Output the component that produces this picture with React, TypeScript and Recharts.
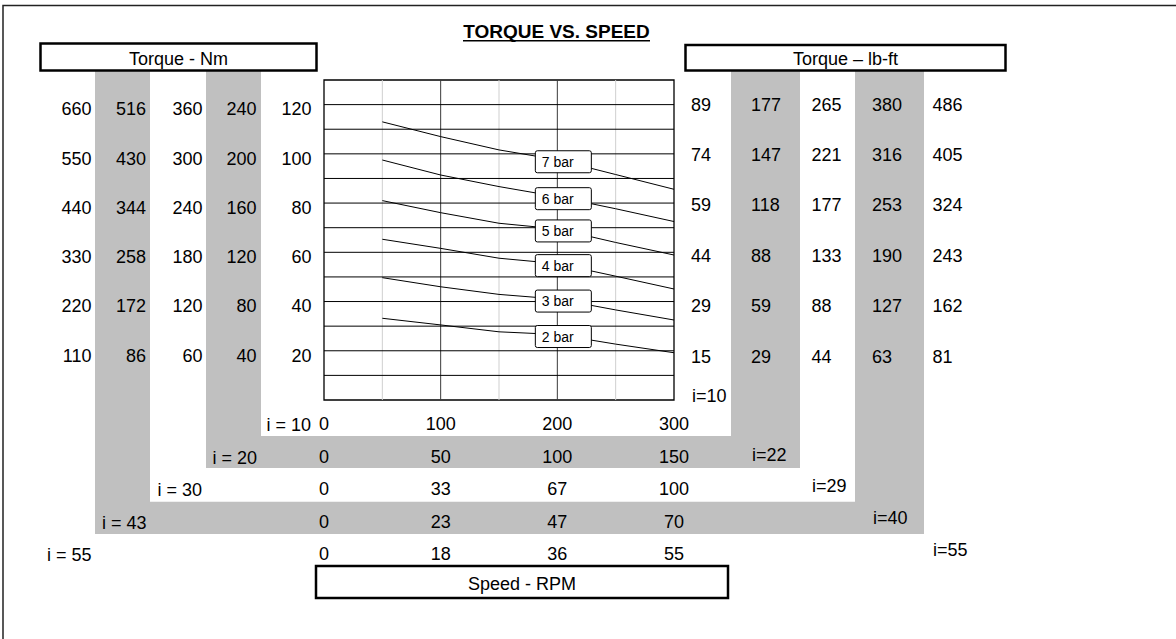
import React from 'react';
import { LineChart, Line, XAxis, YAxis, ReferenceLine, ReferenceArea, LabelList } from 'recharts';

// ---- data ----
const speedRpm = [50, 100, 150, 200, 250, 300];
const bar2 = [33.2, 30.5, 27.7, 26.6, 22.7, 19.2];
const bar3 = [49.7, 46.0, 42.9, 41.0, 36.6, 32.5];
const bar4 = [65.3, 61.6, 57.6, 55.4, 50.3, 45.1];
const bar5 = [81.0, 76.1, 71.8, 69.5, 64.0, 58.9];
const bar6 = [97.5, 91.4, 86.7, 82.6, 77.7, 72.5];
const bar7 = [113.0, 107.0, 101.6, 97.6, 91.6, 85.6];
const seriesNames = ['2 bar', '3 bar', '4 bar', '5 bar', '6 bar', '7 bar'];

const torqueTicks = [20, 40, 60, 80, 100, 120];
const nmI10 = ['20', '40', '60', '80', '100', '120'];
const nmI20 = ['40', '80', '120', '160', '200', '240'];
const nmI30 = ['60', '120', '180', '240', '300', '360'];
const nmI43 = ['86', '172', '258', '344', '430', '516'];
const nmI55 = ['110', '220', '330', '440', '550', '660'];
const lbI10 = ['15', '29', '44', '59', '74', '89'];
const lbI22 = ['29', '59', '88', '118', '147', '177'];
const lbI29 = ['44', '88', '133', '177', '221', '265'];
const lbI40 = ['63', '127', '190', '253', '316', '380'];
const lbI55 = ['81', '162', '243', '324', '405', '486'];

const speedTicks = [0, 100, 200, 300];
const rpmI10 = ['0', '100', '200', '300'];
const rpmI20 = ['0', '50', '100', '150'];
const rpmI30 = ['0', '33', '67', '100'];
const rpmI43 = ['0', '23', '47', '70'];
const rpmI55 = ['0', '18', '36', '55'];

const leftRatioLabels = ['i = 10', 'i = 20', 'i = 30', 'i = 43', 'i = 55'];
const rightRatioLabels = ['i=10', 'i=22', 'i=29', 'i=40', 'i=55'];

const gridY = [10, 20, 30, 40, 50, 60, 70, 80, 90, 100, 110, 120];
const gridXMinor = [50, 150, 250];
const gridXMajor = [100, 200];

const chartData = speedRpm.map((s, i) => ({
  speed: s,
  bar2: bar2[i],
  bar3: bar3[i],
  bar4: bar4[i],
  bar5: bar5[i],
  bar6: bar6[i],
  bar7: bar7[i],
}));

const FONT = "'Liberation Sans', Arial, Helvetica, sans-serif";
const FS = 18;

const makeYTick = (labels: string[], anchor: 'start' | 'end', dy: number) => (props: any) => {
  const i = torqueTicks.indexOf(props.payload.value);
  return (
    <text x={props.x} y={props.y + dy} textAnchor={anchor} fontSize={FS} fontFamily={FONT} fill="#000">
      {labels[i]}
    </text>
  );
};

const makeXTick = (labels: string[]) => (props: any) => {
  const i = speedTicks.indexOf(props.payload.value);
  return (
    <text x={props.x} y={props.y + 30} textAnchor="middle" fontSize={FS} fontFamily={FONT} fill="#000">
      {labels[i]}
    </text>
  );
};

const makeBarLabel = (name: string) => (props: any) => {
  if (props.index !== 3) return null;
  const vb = props.viewBox || {};
  const px = Number(props.x ?? vb.x);
  const py = Number(props.y ?? vb.y) + 2;
  return (
    <g>
      <rect x={px - 22} y={py - 11} width={56} height={22} rx={2} fill="#fff" stroke="#000" strokeWidth={1} />
      <text x={px - 15.5} y={py + 5} fontSize={14} fontFamily={FONT} fill="#000">
        {name}
      </text>
    </g>
  );
};

const leftAxes = [
  { id: 'L1', labels: nmI10, width: 56, margin: 12.5 },
  { id: 'L2', labels: nmI20, width: 56, margin: 11.5 },
  { id: 'L3', labels: nmI30, width: 55, margin: 9.5 },
  { id: 'L4', labels: nmI43, width: 56, margin: 11 },
  { id: 'L5', labels: nmI55, width: 61, margin: 9.5 },
];
const rightAxes = [
  { id: 'R1', labels: lbI10, width: 62, margin: 17 },
  { id: 'R2', labels: lbI22, width: 61, margin: 15 },
  { id: 'R3', labels: lbI29, width: 60, margin: 14.5 },
  { id: 'R4', labels: lbI40, width: 60, margin: 15 },
  { id: 'R5', labels: lbI55, width: 60, margin: 15.5 },
];
const bottomAxes = [
  { id: 'x10', labels: rpmI10 },
  { id: 'x20', labels: rpmI20 },
  { id: 'x30', labels: rpmI30 },
  { id: 'x43', labels: rpmI43 },
  { id: 'x55', labels: rpmI55 },
];

const rowBaselines = [430, 462.5, 495, 527.5, 560];
const leftRatioX = [311, 257, 202, 146.5, 91.5];
const rightRatioX = [692, 752, 812, 873, 933];
const rightRatioY = [401.7, 460.7, 492.3, 524, 556];

const Background = () => (
  <svg width={1176} height={639} style={{ position: 'absolute', left: 0, top: 0 }}>
    <rect x={3} y={5.5} width={1400} height={900} fill="none" stroke="#222" strokeWidth={1.5} />
    <path d="M95,71 H150 V501.7 H855 V71 H924 V534 H95 Z" fill="#c0c0c0" />
    <path d="M206,71 H261 V436 H731 V71 H800 V468 H206 Z" fill="#c0c0c0" />
    <text x={556.5} y={38.3} textAnchor="middle" fontSize={19} fontWeight="bold" fontFamily={FONT} fill="#000">
      TORQUE VS. SPEED
    </text>
    <line x1={463} x2={650} y1={40.8} y2={40.8} stroke="#000" strokeWidth={1.6} />
    <rect x={40.5} y={43.5} width={276} height={27} fill="#fff" stroke="#000" strokeWidth={2.5} />
    <text x={178.5} y={65} textAnchor="middle" fontSize={FS} fontFamily={FONT} fill="#000">Torque - Nm</text>
    <rect x={685.5} y={45} width={320} height={25.5} fill="#fff" stroke="#000" strokeWidth={2.5} />
    <text x={845.5} y={65} textAnchor="middle" fontSize={FS} fontFamily={FONT} fill="#000">Torque – lb-ft</text>
    <rect x={316} y={566} width={412} height={32} fill="#fff" stroke="#000" strokeWidth={2.5} />
    <text x={522} y={589.5} textAnchor="middle" fontSize={FS} fontFamily={FONT} fill="#000">Speed - RPM</text>
    {leftRatioLabels.map((t, i) => (
      <text key={t} x={leftRatioX[i]} y={rowBaselines[i] + 1} textAnchor="end" fontSize={FS} fontFamily={FONT} fill="#000">
        {t}
      </text>
    ))}
    {rightRatioLabels.map((t, i) => (
      <text key={t} x={rightRatioX[i]} y={rightRatioY[i]} textAnchor="start" fontSize={FS} fontFamily={FONT} fill="#000">
        {t}
      </text>
    ))}
  </svg>
);

export default function App() {
  const barKeys = ['bar2', 'bar3', 'bar4', 'bar5', 'bar6', 'bar7'];
  return (
    <div style={{ position: 'absolute', left: 0, top: 0, width: 1176, height: 639, background: '#fff' }}>
      <Background />
      <div style={{ position: 'absolute', left: 0, top: 0 }}>
        <LineChart
          width={1176}
          height={639}
          data={chartData}
          margin={{ top: 80, left: 40, right: 199, bottom: 76.5 }}
        >
          {bottomAxes.map((a) => (
            <XAxis
              key={a.id}
              xAxisId={a.id}
              dataKey="speed"
              type="number"
              domain={[0, 300]}
              allowDataOverflow
              ticks={speedTicks}
              interval={0}
              height={32.5}
              tickSize={0}
              tickMargin={0}
              axisLine={false}
              tickLine={false}
              tick={makeXTick(a.labels)}
            />
          ))}
          {leftAxes.map((a) => (
            <YAxis
              key={a.id}
              yAxisId={a.id}
              orientation="left"
              type="number"
              domain={[0, 130]}
              allowDataOverflow
              ticks={torqueTicks}
              interval={0}
              width={a.width}
              tickSize={0}
              tickMargin={a.margin}
              axisLine={false}
              tickLine={false}
              tick={makeYTick(a.labels, 'end', 10.8)}
            />
          ))}
          {rightAxes.map((a) => (
            <YAxis
              key={a.id}
              yAxisId={a.id}
              orientation="right"
              type="number"
              domain={[0.8, 127.8]}
              allowDataOverflow
              ticks={torqueTicks}
              interval={0}
              width={a.width}
              tickSize={0}
              tickMargin={a.margin}
              axisLine={false}
              tickLine={false}
              tick={makeYTick(a.labels, 'start', 11)}
            />
          ))}
          {gridXMinor.map((v) => (
            <ReferenceLine key={'mn' + v} xAxisId="x10" yAxisId="L1" x={v} stroke="#cfcfcf" strokeWidth={1} />
          ))}
          {gridXMajor.map((v) => (
            <ReferenceLine key={'mj' + v} xAxisId="x10" yAxisId="L1" x={v} stroke="#3a3a3a" strokeWidth={1} />
          ))}
          {gridY.map((v) => (
            <ReferenceLine key={'h' + v} xAxisId="x10" yAxisId="L1" y={v} stroke="#000" strokeWidth={1} />
          ))}
          <ReferenceArea xAxisId="x10" yAxisId="L1" x1={0} x2={300} y1={0} y2={130} fill="none" fillOpacity={0} stroke="#000" strokeWidth={1.3} />
          {barKeys.map((k, i) => (
            <Line
              key={k}
              xAxisId="x10"
              yAxisId="L1"
              type="linear"
              dataKey={k}
              stroke="#000"
              strokeWidth={1}
              dot={false}
              activeDot={false}
              isAnimationActive={false}
            >
              <LabelList dataKey={k} content={makeBarLabel(seriesNames[i])} />
            </Line>
          ))}
        </LineChart>
      </div>
    </div>
  );
}
